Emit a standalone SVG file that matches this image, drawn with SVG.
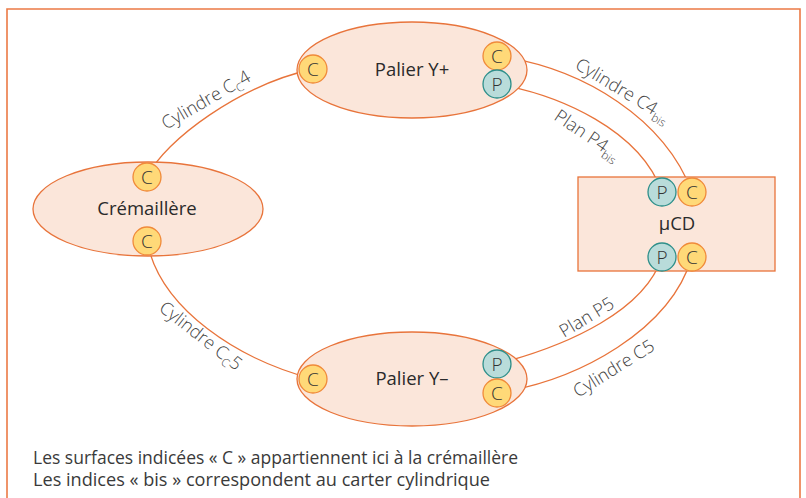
<svg xmlns="http://www.w3.org/2000/svg" width="806" height="498" viewBox="0 0 806 498">
  <style>
    .frame { fill: none; stroke: #EC7A45; stroke-width: 1.6; }
    .node { fill: #FBE6DA; stroke: #E8743B; stroke-width: 1.3; }
    .link { fill: none; stroke: #E8743B; stroke-width: 1.3; }
    .bc { fill: #FFD978; stroke: #F08A3A; stroke-width: 1.3; }
    .bp { fill: #B9DCDA; stroke: #2E8F8A; stroke-width: 1.3; }
    .bt { font-family: "Open Sans", "Noto Sans", sans-serif; font-size: 19px; font-weight: 300; fill: #333; text-anchor: middle; }
    .nt { font-family: "Open Sans", "Noto Sans", sans-serif; font-size: 18.5px; font-weight: 500; fill: #2a2a2a; text-anchor: middle; }
    .lt { font-family: "Open Sans", "Noto Sans", sans-serif; font-size: 18px; font-weight: 300; fill: #444; }
    .sub { font-size: 11.5px; }
    .ft { font-family: "Open Sans", "Noto Sans", sans-serif; font-size: 18px; font-weight: 400; fill: #3a3a3a; }
  </style>

  <path class="frame" d="M7,498 V9 H800 V498"/>

  <!-- connectors (drawn under the badges) -->
  <g id="connectors">
    <path class="link" d="M147,177 C165,140 240,85 313,69"/>
    <path class="link" d="M147,241 C160,310 240,360 313,379"/>
    <path class="link" d="M497,56 C585,68 665,120 692,192"/>
    <path class="link" d="M497,84 C560,95 640,130 662,192"/>
    <path class="link" d="M497,364 C570,345 645,310 662,257"/>
    <path class="link" d="M497,393 C580,380 670,330 692,257"/>
  </g>

  <!-- connector labels -->
  <g id="labels">
    <text class="lt" transform="translate(166,130) rotate(-30)">Cylindre C<tspan class="sub" dy="4">C</tspan><tspan dy="-4">4</tspan></text>
    <text class="lt" transform="translate(158,310) rotate(38)">Cylindre C<tspan class="sub" dy="4">C</tspan><tspan dy="-4">5</tspan></text>
    <text class="lt" transform="translate(574,68) rotate(31)">Cylindre C4<tspan class="sub" dy="5">bis</tspan></text>
    <text class="lt" transform="translate(553,119) rotate(34)">Plan P4<tspan class="sub" dy="5">bis</tspan></text>
    <text class="lt" transform="translate(564,338) rotate(-31)">Plan P5</text>
    <text class="lt" transform="translate(578,398) rotate(-32)">Cylindre C5</text>
  </g>

  <g id="cremaillere">
    <ellipse class="node" cx="148" cy="209" rx="115" ry="47"/>
    <text class="nt" x="147" y="215">Crémaillère</text>
    <circle class="bc" cx="147" cy="177" r="14"/>
    <text class="bt" x="147" y="184">C</text>
    <circle class="bc" cx="147" cy="241" r="14"/>
    <text class="bt" x="147" y="248">C</text>
  </g>

  <g id="palier-y-plus">
    <ellipse class="node" cx="412" cy="70" rx="115" ry="48"/>
    <text class="nt" x="412" y="76">Palier Y+</text>
    <circle class="bc" cx="313" cy="69" r="14"/>
    <text class="bt" x="313" y="76">C</text>
    <circle class="bc" cx="497" cy="56" r="14"/>
    <text class="bt" x="497" y="63">C</text>
    <circle class="bp" cx="497" cy="84" r="14"/>
    <text class="bt" x="497" y="91">P</text>
  </g>

  <g id="palier-y-minus">
    <ellipse class="node" cx="412" cy="379" rx="115" ry="47"/>
    <text class="nt" x="412" y="385">Palier Y–</text>
    <circle class="bc" cx="313" cy="379" r="14"/>
    <text class="bt" x="313" y="386">C</text>
    <circle class="bp" cx="497" cy="364" r="14"/>
    <text class="bt" x="497" y="371">P</text>
    <circle class="bc" cx="497" cy="393" r="14"/>
    <text class="bt" x="497" y="400">C</text>
  </g>

  <g id="ucd">
    <rect class="node" x="578" y="177" width="197" height="94"/>
    <text class="nt" x="677" y="230">µCD</text>
    <circle class="bp" cx="662" cy="192" r="14"/>
    <text class="bt" x="662" y="199">P</text>
    <circle class="bc" cx="692" cy="192" r="14"/>
    <text class="bt" x="692" y="199">C</text>
    <circle class="bp" cx="662" cy="257" r="14"/>
    <text class="bt" x="662" y="264">P</text>
    <circle class="bc" cx="692" cy="257" r="14"/>
    <text class="bt" x="692" y="264">C</text>
  </g>

  <g id="notes">
    <text class="ft" x="33" y="464" textLength="485" lengthAdjust="spacingAndGlyphs">Les surfaces indicées « C » appartiennent ici à la crémaillère</text>
    <text class="ft" x="33" y="486" textLength="457" lengthAdjust="spacingAndGlyphs">Les indices « bis » correspondent au carter cylindrique</text>
  </g>
</svg>
